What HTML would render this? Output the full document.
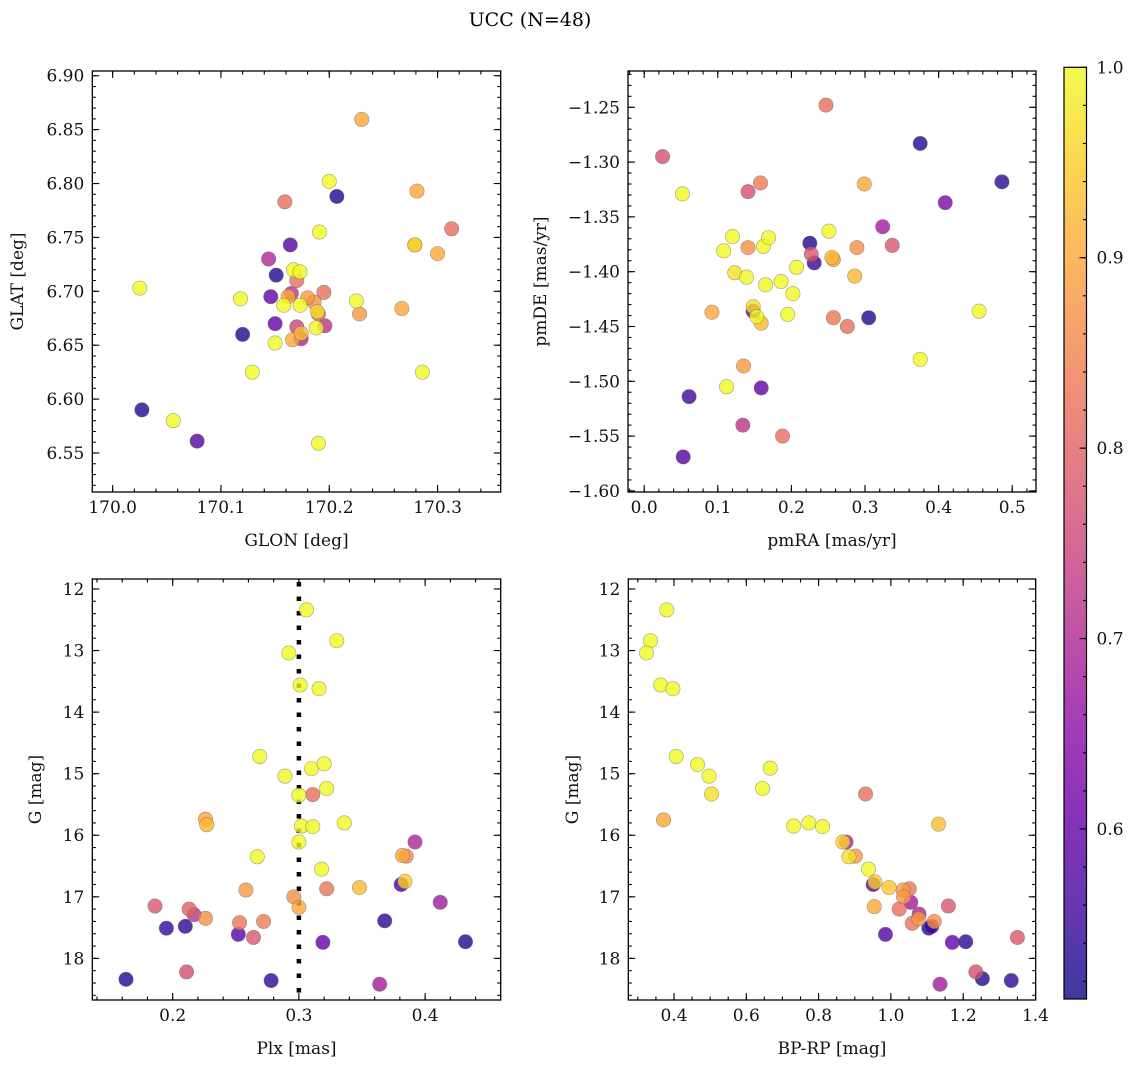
<!DOCTYPE html>
<html><head><meta charset="utf-8">
<style>
html,body{margin:0;padding:0;background:#fff;}
svg{display:block;font-family:"DejaVu Serif","Liberation Serif",serif;}
</style></head>
<body>
<svg id="fig" width="1136" height="1067" viewBox="0 0 1136 1067" xmlns="http://www.w3.org/2000/svg">
<defs>
<linearGradient id="cbgrad" x1="0" y1="1" x2="0" y2="0"></linearGradient>
</defs>
<text x="530" y="26" font-size="19" text-anchor="middle">UCC (N=48)</text>
</svg>
<script>
// ---- data: panel 1 (GLON vs GLAT)
const glon = [170.230,170.200,170.207,170.159,170.281,170.313,170.191,170.164,170.279,170.279,170.300,170.144,170.167,170.173,170.170,170.151,170.025,170.118,170.146,170.165,170.162,170.180,170.186,170.195,170.158,170.173,170.225,170.190,170.189,170.228,170.267,170.150,170.120,170.170,170.196,170.188,170.174,170.166,170.174,170.150,170.129,170.286,170.027,170.056,170.078,170.190];
const glat = [6.8595,6.802,6.788,6.783,6.793,6.758,6.755,6.743,6.743,6.743,6.735,6.730,6.720,6.718,6.710,6.715,6.703,6.693,6.695,6.698,6.695,6.694,6.690,6.699,6.687,6.687,6.691,6.679,6.681,6.679,6.684,6.670,6.660,6.667,6.668,6.666,6.656,6.655,6.661,6.652,6.625,6.625,6.590,6.580,6.561,6.559];
const prob1 = [0.90,1.0,0.52,0.82,0.90,0.82,1.0,0.58,0.90,0.96,0.90,0.70,1.0,1.0,0.82,0.53,1.0,1.0,0.60,0.72,0.90,0.88,0.87,0.82,1.0,1.0,1.0,0.80,0.97,0.88,0.90,0.60,0.53,0.75,0.72,1.0,0.70,0.90,0.93,1.0,1.0,1.0,0.53,1.0,0.58,1.0];
// ---- data: panel 2 (pmRA vs pmDE)
const pmra = [0.247,0.375,0.486,0.025,0.052,0.158,0.141,0.299,0.409,0.324,0.337,0.251,0.225,0.227,0.231,0.255,0.257,0.289,0.286,0.120,0.108,0.141,0.162,0.169,0.123,0.139,0.165,0.186,0.207,0.202,0.092,0.148,0.148,0.153,0.159,0.195,0.257,0.276,0.305,0.455,0.375,0.135,0.112,0.159,0.061,0.134,0.188,0.053];
const pmde = [-1.248,-1.283,-1.318,-1.295,-1.329,-1.319,-1.327,-1.320,-1.337,-1.359,-1.376,-1.363,-1.374,-1.384,-1.392,-1.387,-1.389,-1.378,-1.404,-1.368,-1.381,-1.378,-1.377,-1.369,-1.401,-1.405,-1.412,-1.409,-1.396,-1.420,-1.437,-1.436,-1.432,-1.441,-1.447,-1.439,-1.442,-1.450,-1.442,-1.436,-1.480,-1.486,-1.505,-1.506,-1.514,-1.540,-1.550,-1.569];
const prob2 = [0.82,0.53,0.54,0.77,1.0,0.84,0.77,0.90,0.63,0.68,0.78,1.0,0.53,0.78,0.55,0.92,0.90,0.87,0.92,1.0,1.0,0.87,1.0,1.0,0.97,1.0,1.0,1.0,1.0,1.0,0.90,0.60,0.97,1.0,0.92,1.0,0.83,0.82,0.53,1.0,1.0,0.88,1.0,0.60,0.56,0.72,0.82,0.58];
// ---- data: panel 3 (Plx vs G)
const plx = [0.306,0.330,0.292,0.301,0.316,0.269,0.289,0.310,0.320,0.322,0.311,0.300,0.226,0.227,0.302,0.311,0.336,0.300,0.267,0.392,0.385,0.382,0.318,0.258,0.322,0.348,0.381,0.384,0.296,0.300,0.412,0.186,0.213,0.217,0.226,0.195,0.210,0.253,0.272,0.252,0.264,0.368,0.319,0.432,0.211,0.163,0.278,0.364];
const gmag3 = [12.34,12.84,13.04,13.56,13.62,14.72,15.04,14.92,14.84,15.24,15.34,15.35,15.74,15.83,15.85,15.86,15.80,16.11,16.35,16.11,16.34,16.33,16.55,16.89,16.87,16.85,16.80,16.75,17.00,17.17,17.09,17.15,17.20,17.29,17.35,17.51,17.48,17.42,17.40,17.61,17.66,17.39,17.74,17.73,18.22,18.34,18.36,18.42];
const prob3 = [1.0,1.0,1.0,1.0,1.0,1.0,1.0,1.0,1.0,1.0,0.82,1.0,0.90,0.92,1.0,1.0,1.0,1.0,1.0,0.70,0.85,0.90,1.0,0.88,0.83,0.92,0.56,0.95,0.87,0.90,0.68,0.78,0.80,0.72,0.87,0.55,0.54,0.83,0.84,0.58,0.78,0.54,0.60,0.53,0.77,0.53,0.54,0.68];
const plxRef = [0.30];
// ---- data: panel 4 (BP-RP vs G)
const bprp = [0.380,0.335,0.324,0.363,0.397,0.406,0.465,0.497,0.504,0.666,0.645,0.930,0.371,1.132,0.731,0.773,0.811,0.876,0.867,0.902,0.884,0.938,0.951,0.956,0.995,1.051,1.034,1.035,1.055,0.954,1.023,1.159,1.078,1.077,1.059,1.120,1.105,1.113,0.985,1.170,1.207,1.350,1.235,1.253,1.333,1.136];
const gmag4 = [12.34,12.84,13.04,13.56,13.62,14.72,14.85,15.04,15.33,14.91,15.24,15.33,15.75,15.82,15.85,15.80,15.86,16.11,16.11,16.34,16.35,16.55,16.80,16.76,16.85,16.87,16.89,17.00,17.09,17.16,17.20,17.15,17.28,17.36,17.43,17.40,17.51,17.48,17.61,17.74,17.73,17.66,18.22,18.33,18.36,18.42];
const prob4 = [1.0,1.0,1.0,1.0,1.0,1.0,1.0,1.0,0.97,1.0,1.0,0.82,0.90,0.93,1.0,1.0,1.0,0.70,0.96,0.88,0.97,1.0,0.58,0.95,0.94,0.83,0.88,0.88,0.68,0.90,0.82,0.78,0.70,0.88,0.83,0.87,0.53,0.55,0.58,0.60,0.54,0.78,0.77,0.53,0.54,0.68];
// ---- colorbar ticks
const cbTicks = [1.0,0.9,0.8,0.7,0.6];
const xTicks1 = [170.0,170.1,170.2,170.3], yTicks1 = [6.55,6.60,6.65,6.70,6.75,6.80,6.85,6.90];
const xTicks2 = [0.0,0.1,0.2,0.3,0.4,0.5], yTicks2 = [-1.25,-1.30,-1.35,-1.40,-1.45,-1.50,-1.55,-1.60];
const xTicks3 = [0.2,0.3,0.4], yTicks34 = [12,13,14,15,16,17,18];
const xTicks4 = [0.4,0.6,0.8,1.0,1.2,1.4];

const NS = "http://www.w3.org/2000/svg";
const svg = document.getElementById('fig');
const VMIN = 0.5107, VMAX = 1.0;
const FS = 17;
const plasma = [[13,8,135],[65,4,157],[106,0,168],[143,13,164],[177,42,144],[204,71,120],[225,100,98],[242,132,75],[252,166,54],[252,206,37],[240,249,33]];
function cmap(v){
  let t=(v-VMIN)/(VMAX-VMIN); t=Math.max(0,Math.min(1,t));
  const f=t*10, i=Math.min(9,Math.floor(f)), r=f-i;
  const a=plasma[i], b=plasma[i+1];
  return 'rgb('+a.map((c,k)=>Math.round(c+(b[k]-c)*r)).join(',')+')';
}
function el(tag, attrs, parent){
  const e=document.createElementNS(NS,tag);
  for(const k in attrs) e.setAttribute(k,attrs[k]);
  (parent||svg).appendChild(e); return e;
}
function fmt(v,d){ const s=Math.abs(v).toFixed(d); return (v<0?'\u2212':'')+s; }

function panel(o){
  const g=el('g',{});
  
  
  const sx=v=>o.x0+(v-o.xmin)/(o.xmax-o.xmin)*(o.x1-o.x0);
  const sy=v=>o.inv ? o.y0+(v-o.ymin)/(o.ymax-o.ymin)*(o.y1-o.y0) : o.y1-(v-o.ymin)/(o.ymax-o.ymin)*(o.y1-o.y0);
  const pg=el('g',{},g);
  
  
  const cp='cp-'+o.name;
  const clip=el('clipPath',{id:cp},g); el('rect',{x:o.x0,y:o.y0,width:o.x1-o.x0,height:o.y1-o.y0},clip);
  pg.setAttribute('clip-path','url(#'+cp+')');
  if(o.vline){
    o.vline.forEach(v=>{
      const l=el('line',{x1:sx(v),x2:sx(v),y1:o.y0+3,y2:o.y1,stroke:'#000','stroke-width':4.5,'stroke-dasharray':'4.5 10'},pg);
      
      
    });
  }
  const order=o.xs.map((_,i)=>i).sort((a,b)=>o.ps[a]-o.ps[b]);
  order.forEach(i=>{
    const c=el('circle',{cx:sx(o.xs[i]),cy:sy(o.ys[i]),r:7.2,fill:cmap(o.ps[i]),'fill-opacity':0.8,stroke:'#666','stroke-opacity':0.6,'stroke-width':0.6},pg);
    
    
  });
  const fr=el('rect',{x:o.x0,y:o.y0,width:o.x1-o.x0,height:o.y1-o.y0,fill:'none',stroke:'#000','stroke-width':1.3},g);
  
  
  const tg=el('g',{stroke:'#000','stroke-width':1.1},g);
  const eps=1e-9;
  for(let v=Math.ceil(o.xmin/o.xminor-eps)*o.xminor; v<=o.xmax+eps; v+=o.xminor){
    const X=sx(v); if(X<o.x0+0.5||X>o.x1-0.5) continue;
    el('line',{x1:X,x2:X,y1:o.y1,y2:o.y1-3.5},tg); el('line',{x1:X,x2:X,y1:o.y0,y2:o.y0+3.5},tg);
  }
  for(let v=Math.ceil(o.ymin/o.yminor-eps)*o.yminor; v<=o.ymax+eps; v+=o.yminor){
    const Y=sy(v); if(Y<o.y0+0.5||Y>o.y1-0.5) continue;
    el('line',{x1:o.x0,x2:o.x0+3.5,y1:Y,y2:Y},tg); el('line',{x1:o.x1,x2:o.x1-3.5,y1:Y,y2:Y},tg);
  }
  o.xt.forEach(v=>{
    const X=sx(v);
    el('line',{x1:X,x2:X,y1:o.y1,y2:o.y1-7},tg); el('line',{x1:X,x2:X,y1:o.y0,y2:o.y0+7},tg);
    const t=el('text',{x:X,y:o.y1+21,'font-size':FS,'text-anchor':'middle',fill:'#111'},g);
    t.textContent=fmt(v,o.xd);
    
    
  });
  o.yt.forEach(v=>{
    const Y=sy(v);
    el('line',{x1:o.x0,x2:o.x0+7,y1:Y,y2:Y},tg); el('line',{x1:o.x1,x2:o.x1-7,y1:Y,y2:Y},tg);
    const t=el('text',{x:o.x0-8,y:Y+6,'font-size':FS,'text-anchor':'end',fill:'#111'},g);
    t.textContent=fmt(v,o.yd);
    
    
  });
  const xl=el('text',{x:(o.x0+o.x1)/2,y:o.y1+54,'font-size':FS,'text-anchor':'middle',fill:'#111'},g);
  xl.textContent=o.xlabel;
  
  
  const yx=o.ylx, yy=(o.y0+o.y1)/2;
  const yl=el('text',{x:yx,y:yy,'font-size':FS,'text-anchor':'middle',fill:'#111',transform:'rotate(-90 '+yx+' '+yy+')'},g);
  yl.textContent=o.ylabel;
  
  
}

panel({name:'glon-glat-panel',x0:92.3,x1:500.7,y0:71,y1:492,xmin:169.9812,xmax:170.3583,ymin:6.5138,ymax:6.9044,
  xs:glon,ys:glat,ps:prob1,xt:xTicks1,yt:yTicks1,xd:1,yd:2,xminor:0.02,yminor:0.01,xlabel:'GLON [deg]',ylabel:'GLAT [deg]',ylx:23});
panel({name:'pm-panel',x0:628,x1:1036,y0:71,y1:492,xmin:-0.0220,xmax:0.5323,ymin:-1.6010,ymax:-1.2169,
  xs:pmra,ys:pmde,ps:prob2,xt:xTicks2,yt:yTicks2,xd:1,yd:2,xminor:0.02,yminor:0.01,xlabel:'pmRA [mas/yr]',ylabel:'pmDE [mas/yr]',ylx:546});
panel({name:'plx-g-panel',x0:92.3,x1:500.7,y0:579,y1:1000,xmin:0.1363,xmax:0.4599,ymin:11.838,ymax:18.676,inv:true,
  xs:plx,ys:gmag3,ps:prob3,xt:xTicks3,yt:yTicks34,xd:1,yd:0,xminor:0.02,yminor:0.2,xlabel:'Plx [mas]',ylabel:'G [mag]',ylx:41,vline:plxRef});
panel({name:'cmd-panel',x0:628.3,x1:1035.7,y0:579,y1:1000,xmin:0.2736,xmax:1.4006,ymin:11.838,ymax:18.676,inv:true,
  xs:bprp,ys:gmag4,ps:prob4,xt:xTicks4,yt:yTicks34,xd:1,yd:0,xminor:0.05,yminor:0.2,xlabel:'BP-RP [mag]',ylabel:'G [mag]',ylx:578});

(function(){
  const grad=document.getElementById('cbgrad');
  for(let k=0;k<=20;k++){
    const v=VMIN+(VMAX-VMIN)*k/20;
    el('stop',{offset:(k/20),'stop-color':cmap(v),'stop-opacity':0.8},grad);
  }
  const cx0=1064,cx1=1086.5,cy0=67.3,cy1=999;
  const g=el('g',{});
  
  
  el('rect',{x:cx0,y:cy0,width:cx1-cx0,height:cy1-cy0,fill:'url(#cbgrad)',stroke:'#000','stroke-width':1.2},g);
  const sy=v=>cy0+(VMAX-v)/(VMAX-VMIN)*(cy1-cy0);
  for(let v=0.52; v<=1.0001; v+=0.02){
    const Y=sy(v); if(Y<cy0+1||Y>cy1-1) continue;
    el('line',{x1:cx1,x2:cx1-3.5,y1:Y,y2:Y,stroke:'#000','stroke-width':1.1},g);
  }
  cbTicks.forEach(v=>{
    const Y=sy(v);
    el('line',{x1:cx1,x2:cx1-7,y1:Y,y2:Y,stroke:'#000','stroke-width':1.1},g);
    const t=el('text',{x:cx1+10,y:Y+6,'font-size':FS,fill:'#111'},g);
    t.textContent=v.toFixed(1);
    
    
  });
})();
</script>
</body></html>
